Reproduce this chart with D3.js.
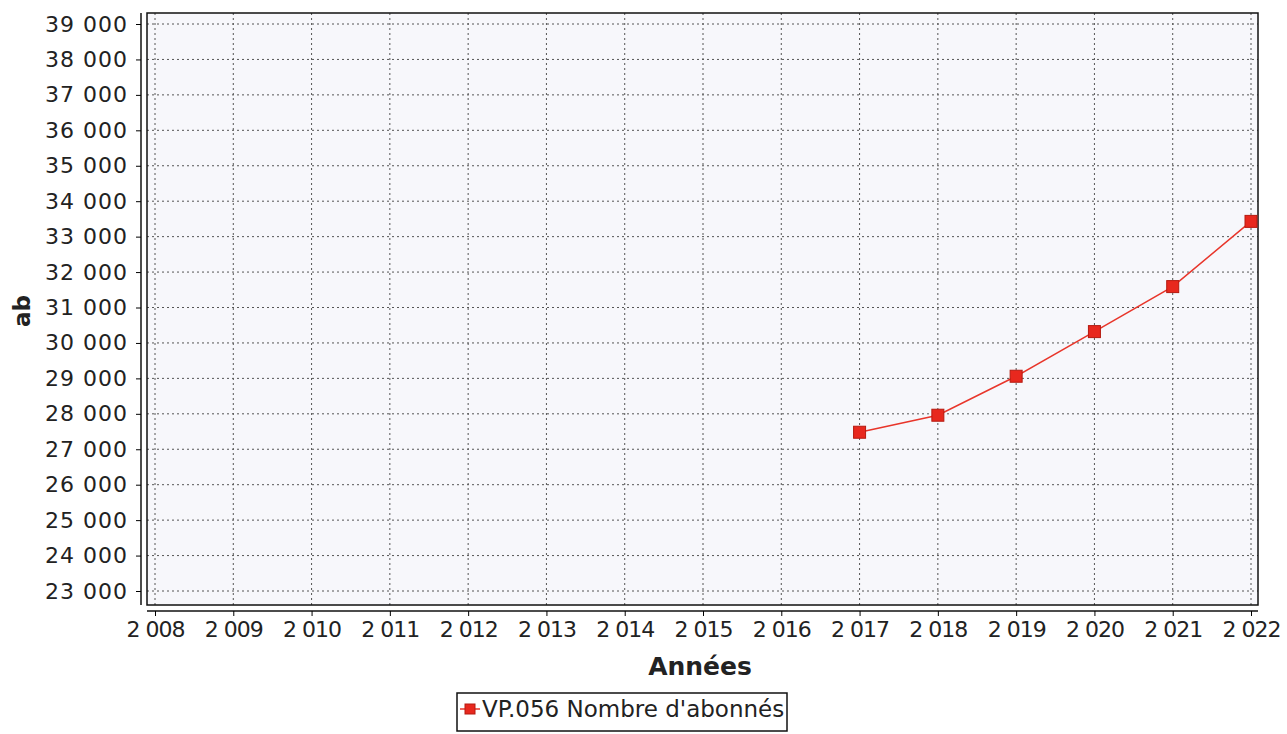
<!DOCTYPE html>
<html>
<head>
<meta charset="utf-8">
<script src="https://cdn.jsdelivr.net/npm/d3@7"></script>
<style>
body { margin: 0; background: #fff; }
text { font-family: "DejaVu Sans", sans-serif; fill: #222; }
</style>
</head>
<body>
<svg id="chart" width="1287" height="734"></svg>
<script>
var years = [2017, 2018, 2019, 2020, 2021, 2022];
var abonnes = [27480, 27960, 29060, 30320, 31590, 33430];
var xTicks = d3.range(2008, 2023);
var yTicks = d3.range(23000, 40000, 1000);
var serieName = "VP.056 Nombre d'abonnés";
var lineColor = "#e8352a";

var svg = d3.select("#chart");
var box = {left: 147, right: 1258, top: 13, bottom: 605};

var fmt = function(v) { return d3.format(",")(v).replace(/,/g, " "); };

var x = d3.scaleLinear().domain([2008, 2022]).range([155, 1251]);
var y = d3.scaleLinear().domain([23000, 39000]).range([591, 24]);

// plot background
svg.append("rect")
   .attr("x", box.left).attr("y", box.top)
   .attr("width", box.right - box.left).attr("height", box.bottom - box.top)
   .attr("fill", "#f7f7fb");

// grid
svg.append("g").selectAll("line")
   .data(xTicks).enter().append("line")
   .attr("x1", function(d) { return x(d); }).attr("x2", function(d) { return x(d); })
   .attr("y1", box.top).attr("y2", box.bottom)
   .attr("stroke", "#555").attr("stroke-width", 1).attr("stroke-dasharray", "2,3");
svg.append("g").selectAll("line")
   .data(yTicks).enter().append("line")
   .attr("y1", function(d) { return y(d); }).attr("y2", function(d) { return y(d); })
   .attr("x1", box.left).attr("x2", box.right)
   .attr("stroke", "#555").attr("stroke-width", 1).attr("stroke-dasharray", "2,3");

svg.append("rect")
   .attr("x", box.left).attr("y", box.top)
   .attr("width", box.right - box.left).attr("height", box.bottom - box.top)
   .attr("fill", "none").attr("stroke", "#111").attr("stroke-width", 1.5);

// axes
var yAxis = svg.append("g")
   .attr("transform", "translate(141,0)")
   .call(d3.axisLeft(y).tickValues(yTicks).tickFormat(fmt).tickSize(5).tickPadding(8));
yAxis.select(".domain").attr("d", "M0," + box.top + "V" + box.bottom).attr("stroke", "#111").attr("stroke-width", 1.5);
yAxis.selectAll("text").attr("font-size", "22px").attr("letter-spacing", "1px")
   .attr("fill", "#222").attr("font-family", "DejaVu Sans");

var xAxis = svg.append("g")
   .attr("transform", "translate(0,611)")
   .call(d3.axisBottom(x).tickValues(xTicks).tickFormat(fmt).tickSize(5).tickPadding(5));
xAxis.select(".domain").attr("d", "M" + box.left + ",0H" + box.right).attr("stroke", "#111").attr("stroke-width", 1.5);
xAxis.selectAll("text").attr("font-size", "22px").attr("letter-spacing", "-1px")
   .attr("fill", "#222").attr("font-family", "DejaVu Sans");

// axis titles
svg.append("text")
   .attr("x", 700).attr("y", 675)
   .attr("text-anchor", "middle")
   .attr("font-size", "25px").attr("font-weight", "bold")
   .text("Années");
svg.append("text")
   .attr("transform", "translate(30,311) rotate(-90)")
   .attr("text-anchor", "middle")
   .attr("font-size", "23px").attr("font-weight", "bold")
   .text("ab");

// series
var line = d3.line()
   .x(function(d, i) { return x(years[i]); })
   .y(function(d) { return y(d); });
svg.append("path")
   .datum(abonnes)
   .attr("d", line)
   .attr("fill", "none").attr("stroke", lineColor).attr("stroke-width", 1.5);
svg.selectAll(".pt")
   .data(abonnes).enter().append("rect")
   .attr("class", "pt")
   .attr("x", function(d, i) { return x(years[i]) - 6; })
   .attr("y", function(d) { return y(d) - 6; })
   .attr("width", 12).attr("height", 12)
   .attr("fill", "#e8281e").attr("stroke", "#b51a10").attr("stroke-width", 1);

// legend
var lg = svg.append("g").attr("transform", "translate(457,693)");
lg.append("rect")
   .attr("width", 330).attr("height", 38)
   .attr("fill", "#fff").attr("stroke", "#111").attr("stroke-width", 1.5);
lg.append("line")
   .attr("x1", 3).attr("x2", 23).attr("y1", 16).attr("y2", 16)
   .attr("stroke", lineColor).attr("stroke-width", 1.5);
lg.append("rect")
   .attr("x", 8).attr("y", 11).attr("width", 10).attr("height", 10)
   .attr("fill", "#e8281e").attr("stroke", "#b51a10");
lg.append("text")
   .attr("x", 25).attr("y", 24)
   .attr("font-size", "23px")
   .text(serieName);
</script>
</body>
</html>
